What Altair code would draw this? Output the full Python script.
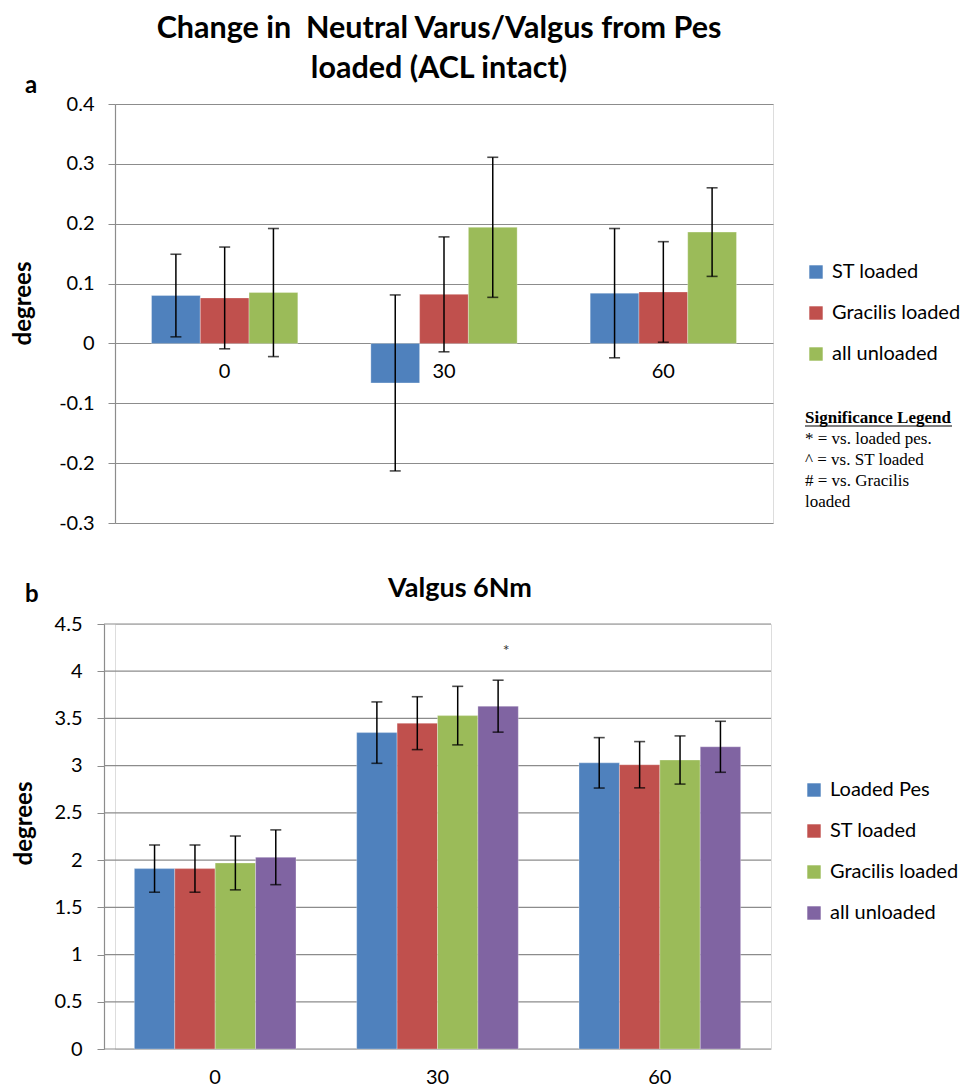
import altair as alt
import pandas as pd

angles = ["0", "30", "60"]

# Panel a
a_title = ["Change in \u00a0Neutral Varus/Valgus from Pes", "loaded (ACL intact)"]
a_series = ["ST loaded", "Gracilis loaded", "all unloaded"]
a_colors = ["#4F81BD", "#C0504D", "#9BBB59"]
a_st = [0.080, -0.066, 0.084]
a_gr = [0.076, 0.082, 0.086]
a_all = [0.085, 0.194, 0.186]
a_st_err = [0.069, 0.147, 0.108]
a_gr_err = [0.085, 0.096, 0.084]
a_all_err = [0.107, 0.117, 0.074]
a_ticks = [-0.3, -0.2, -0.1, 0, 0.1, 0.2, 0.3, 0.4]

# Panel b
b_title = "Valgus 6Nm"
b_series = ["Loaded Pes", "ST loaded", "Gracilis loaded", "all unloaded"]
b_colors = ["#4F81BD", "#C0504D", "#9BBB59", "#8064A2"]
b_pes = [1.91, 3.35, 3.03]
b_st = [1.91, 3.45, 3.01]
b_gr = [1.97, 3.53, 3.06]
b_all = [2.03, 3.63, 3.20]
b_pes_err = [0.25, 0.325, 0.267]
b_st_err = [0.25, 0.28, 0.245]
b_gr_err = [0.285, 0.31, 0.255]
b_all_err = [0.29, 0.275, 0.27]
b_ticks = [0, 0.5, 1, 1.5, 2, 2.5, 3, 3.5, 4, 4.5]

sig_title = "Significance Legend"
sig_lines = ["* = vs. loaded pes.", "^ = vs. ST loaded", "# = vs. Gracilis", "loaded"]

FONT = "Lato"
GRID = "#8c8c8c"


def build_df(series, vals, errs):
    rows = []
    for s, v, e in zip(series, vals, errs):
        for ang, vv, ee in zip(angles, v, e):
            rows.append({"angle": ang, "series": s, "value": vv, "err": ee})
    return pd.DataFrame(rows)


df_a = build_df(a_series, [a_st, a_gr, a_all], [a_st_err, a_gr_err, a_all_err])
df_b = build_df(b_series, [b_pes, b_st, b_gr, b_all], [b_pes_err, b_st_err, b_gr_err, b_all_err])

label_expr = "datum.value < 0 ? '-' + format(-datum.value, '~g') : format(datum.value, '~g')"


def text_mark(txt, x, y, size, bold=True, font=FONT, align="left", color="black", line_height=None):
    kw = dict(font=font, fontSize=size, align=align, baseline="middle", color=color)
    if bold:
        kw["fontWeight"] = "bold"
    if line_height:
        kw["lineHeight"] = line_height
    return alt.Chart(pd.DataFrame({"t": [txt]})).mark_text(**kw).encode(
        x=alt.value(x), y=alt.value(y), text="t")


def anchor(x):
    # invisible marker fixing the left edge of the panel's bounds
    return alt.Chart(pd.DataFrame({"t": [0]})).mark_rule(opacity=0, strokeWidth=1).encode(
        x=alt.value(x), x2=alt.value(x + 1), y=alt.value(0))


def panel(df, series, colors, ydomain, ticks, xscale, x_axis, pos, lab_pad, title_x, y_offset, grid):
    xenc = alt.X("angle:N", sort=angles, title=None, scale=xscale, axis=x_axis)
    xo = alt.XOffset("series:N", sort=series)
    yscale = alt.Scale(domain=ydomain, nice=False, zero=False)
    yax = alt.Axis(values=ticks, labelExpr=label_expr, title="degrees", titleFontSize=24,
                   titleFont=FONT, titleFontWeight="bold", titleColor="black",
                   titleX=title_x, titleY=199, offset=y_offset,
                   labelFont=FONT, labelFontSize=20, labelColor="black", labelPadding=lab_pad,
                   grid=grid, gridColor=GRID, gridWidth=1.2, tickColor=GRID, tickSize=7,
                   domainColor=GRID, domainWidth=1.2)
    base = alt.Chart(df).transform_calculate(lo="datum.value - datum.err", hi="datum.value + datum.err")
    bars = base.mark_bar(stroke="white", strokeWidth=0.5, strokeOpacity=0.6).encode(
        x=xenc, xOffset=xo,
        y=alt.Y("value:Q", scale=yscale, axis=yax),
        color=alt.Color("series:N", sort=series,
                        scale=alt.Scale(domain=series, range=colors),
                        legend=alt.Legend(orient="none", legendX=pos[0], legendY=pos[1],
                                          title=None, labelFont=FONT, labelFontSize=20,
                                          labelColor="black", symbolType="square", symbolSize=180,
                                          symbolStrokeWidth=0, rowPadding=21, labelOffset=6)),
    )
    rules = base.mark_rule(color="black", strokeWidth=1.5).encode(
        x=alt.X("angle:N", sort=angles), xOffset=xo,
        y=alt.Y("lo:Q", scale=yscale), y2="hi:Q")
    cap_hi = base.mark_tick(color="black", thickness=1.6, size=11).encode(
        x=alt.X("angle:N", sort=angles), xOffset=xo, y=alt.Y("hi:Q", scale=yscale))
    cap_lo = base.mark_tick(color="black", thickness=1.6, size=11).encode(
        x=alt.X("angle:N", sort=angles), xOffset=xo, y=alt.Y("lo:Q", scale=yscale))
    return [bars, rules, cap_hi, cap_lo], yscale, yax


# ---------- Panel a ----------
a_xaxis = alt.Axis(labelFont=FONT, labelFontSize=20, labelColor="black", labelAngle=0,
                   domain=False, ticks=False, grid=False, offset=-180, labelPadding=18)
a_xscale = alt.Scale(paddingInner=0.333, paddingOuter=0.1665)
layers_a, _, _ = panel(df_a, a_series, a_colors, [-0.3, 0.4], a_ticks, a_xscale, a_xaxis,
                       (691, 158), 14, -80, 0, True)
sig_under = alt.Chart(pd.DataFrame({"t": [sig_title]})).mark_rule(color="black", strokeWidth=1.2).encode(
    x=alt.value(690), x2=alt.value(837), y=alt.value(322))

chart_a = alt.layer(
    *layers_a,
    text_mark(a_title[0], 324, -75, 30.5, align="center"),
    text_mark(a_title[1], 324, -35, 30.5, align="center"),
    text_mark("a", -90, -18, 24),
    text_mark(sig_title, 690, 314, 17, font="Liberation Serif"),
    sig_under,
    text_mark(sig_lines, 690, 335, 17, bold=False, font="Liberation Serif", line_height=21),
    anchor(-106),
).properties(width=658, height=419)

# ---------- Panel b ----------
# plot area of panel b starts 11px left of panel a's: shift the axis and the scale range
B_SHIFT = 11
b_xaxis = alt.Axis(labelFont=FONT, labelFontSize=20, labelColor="black", labelAngle=0,
                   domain=False, ticks=False, grid=False, labelPadding=18)
b_xscale = alt.Scale(paddingInner=0.273, paddingOuter=0.1365, range=[-B_SHIFT, 656])
layers_b, b_yscale, b_yax = panel(df_b, b_series, b_colors, [0, 4.5], b_ticks, b_xscale, b_xaxis,
                                  (689, 156), 15, -68, B_SHIFT, False)
b_grid = alt.Chart(pd.DataFrame({"v": b_ticks})).mark_rule(color=GRID, strokeWidth=1.2).encode(
    y=alt.Y("v:Q", scale=b_yscale, axis=b_yax), x=alt.value(-B_SHIFT), x2=alt.value(656))
star = alt.Chart(pd.DataFrame({"angle": ["30"], "series": ["all unloaded"], "y": [4.21], "t": ["*"]})).mark_text(
    font=FONT, fontSize=16, color="#333333", dx=8, baseline="middle"
).encode(x=alt.X("angle:N", sort=angles), xOffset=alt.XOffset("series:N", sort=b_series),
         y=alt.Y("y:Q", scale=b_yscale), text="t:N")

chart_b = alt.layer(
    b_grid, *layers_b, star,
    text_mark(b_title, 345, -35, 27, align="center"),
    text_mark("b", -90, -29, 24),
    anchor(-106),
).properties(width=656, height=425)

ind = dict(color="independent", x="independent", y="independent", xOffset="independent")
chart = alt.vconcat(chart_a, chart_b, spacing=40).resolve_scale(**ind).properties(
    padding={"left": 0, "top": 5, "right": 0, "bottom": 0}
).configure_view(strokeWidth=0).configure(background="white")

chart.save("out.html", embed_options={"renderer": "svg", "actions": False})
